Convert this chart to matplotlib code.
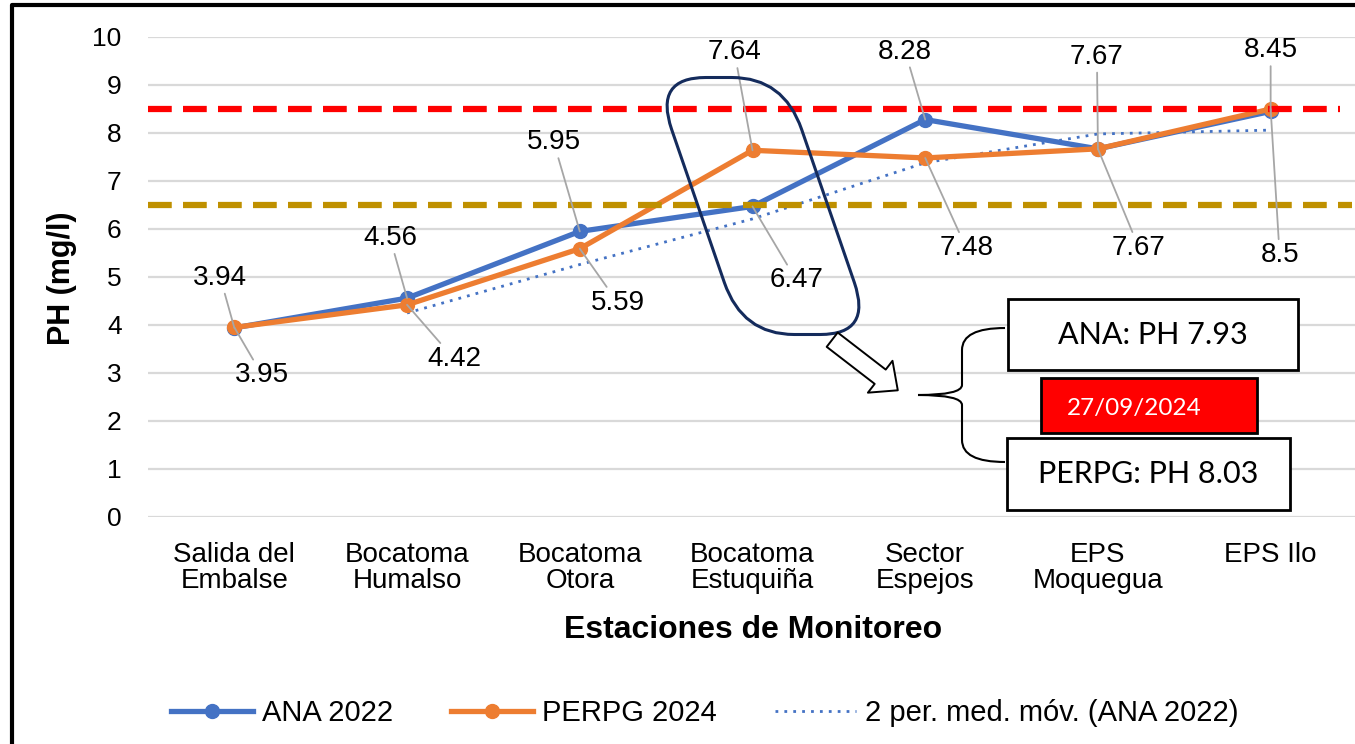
import matplotlib
matplotlib.use("Agg")
import matplotlib.pyplot as plt
from matplotlib.lines import Line2D
from matplotlib.patches import FancyBboxPatch, FancyArrowPatch, Rectangle, PathPatch
from matplotlib.path import Path
from matplotlib.transforms import Affine2D

plt.rcParams["font.family"] = ["Liberation Sans", "DejaVu Sans"]

# ── datos ────────────────────────────────────
estaciones = ["Salida del\nEmbalse", "Bocatoma\nHumalso", "Bocatoma\nOtora",
              "Bocatoma\nEstuquiña", "Sector\nEspejos", "EPS\nMoquegua", "EPS Ilo"]
ana_2022 = [3.94, 4.56, 5.95, 6.47, 8.28, 7.67, 8.45]
perpg_2024 = [3.95, 4.42, 5.59, 7.64, 7.48, 7.67, 8.50]
# media móvil de 2 periodos (ANA 2022), desde la 2da estación
media_movil = [4.25, 5.26, 6.21, 7.38, 7.98, 8.06]
limite_sup = 8.5
limite_inf = 6.5
recuadro_ana = "ANA: PH 7.93"
recuadro_perpg = "PERPG: PH 8.03"
fecha = "27/09/2024"

C_ANA = "#4472C4"
C_PERPG = "#ED7D31"
C_GRID = "#D9D9D9"
C_LEADER = "#A6A6A6"

# offsets de etiquetas (pixeles)
off_ana = [(-14, 50), (-17, 60), (-26, 89), (44, -74), (-20, 68), (-1, 92), (0, 61)]
off_perpg = [(28, -48), (47, -54), (38, -54), (-18, 98), (41, -90), (41, -99), (9, -146)]

W, H = 1355, 744
fig = plt.figure(figsize=(W / 100, H / 100), dpi=100)
fig.patch.set_facecolor("white")

ax = fig.add_axes([148 / W, (H - 517) / H, (1357 - 148) / W, (517 - 37) / H])
x = list(range(len(estaciones)))
ax.set_xlim(-0.5, 6.5)
ax.set_ylim(0, 10)
ax.set_yticks(range(0, 11))
ax.set_xticks(x)
ax.set_xticklabels(estaciones, fontsize=20, linespacing=1.0)
ax.tick_params(axis="both", length=0, colors="#000000")
ax.tick_params(axis="y", pad=19, labelsize=19)
ax.tick_params(axis="x", pad=18)
for s in ax.spines.values():
    s.set_visible(False)
ax.grid(axis="y", color=C_GRID, lw=1.6)
ax.set_axisbelow(True)

ax.plot(x[1:], media_movil, color=C_ANA, lw=2.0, ls=(0, (1, 2.2)), zorder=2)
ax.plot(x, ana_2022, color=C_ANA, lw=3.8, marker="o", ms=10, zorder=3)
ax.plot(x, perpg_2024, color=C_PERPG, lw=3.8, marker="o", ms=10, zorder=3)

ax.axhline(limite_sup, xmin=0, xmax=(1340 - 148) / (1357 - 148), color="#FF0000",
           lw=4.5, ls=(0, (3.8, 1.8)), zorder=4)
ax.axhline(limite_inf, xmin=0, xmax=(1352 - 148) / (1357 - 148), color="#BF9000",
           lw=4.5, ls=(0, (3.8, 1.8)), zorder=4)

for xi, v, (dx, dy) in zip(x, ana_2022, off_ana):
    ax.annotate(f"{v:g}", xy=(xi, v), xytext=(dx, dy), textcoords="offset pixels",
                ha="center", va="center", fontsize=20, color="#000000",
                arrowprops=dict(arrowstyle="-", color=C_LEADER, lw=1.3,
                                shrinkA=0, shrinkB=0), zorder=5)
for xi, v, (dx, dy) in zip(x, perpg_2024, off_perpg):
    ax.annotate(f"{v:g}", xy=(xi, v), xytext=(dx, dy), textcoords="offset pixels",
                ha="center", va="center", fontsize=20, color="#000000",
                arrowprops=dict(arrowstyle="-", color=C_LEADER, lw=1.3,
                                shrinkA=0, shrinkB=0), zorder=5)

fig.text(62 / W, 1 - 278 / H, "PH (mg/l)", rotation=90, ha="center", va="center",
         fontsize=22, fontweight="bold")
fig.text(753 / W, 1 - 630 / H, "Estaciones de Monitoreo", ha="center", va="center",
         fontsize=23, fontweight="bold")

handles = [
    Line2D([], [], color=C_ANA, lw=3.8, marker="o", ms=10),
    Line2D([], [], color=C_PERPG, lw=3.8, marker="o", ms=10),
    Line2D([], [], color=C_ANA, lw=2.0, ls=(0, (1, 2.2))),
]
fig.legend(handles, ["ANA 2022", "PERPG 2024", "2 per. med. móv. (ANA 2022)"],
           loc="center", bbox_to_anchor=(705 / W, 1 - 713 / H), ncol=3,
           frameon=False, fontsize=21, handlelength=2.8, handletextpad=0.3,
           columnspacing=2.0)

# ── capa de anotaciones en pixeles ────────────────────────────────────
ov = fig.add_axes([0, 0, 1, 1], zorder=10)
ov.set_xlim(0, W)
ov.set_ylim(H, 0)
ov.axis("off")
ov.patch.set_alpha(0)

# marco negro
ov.plot([12, 12, W], [H, 5, 5], color="black", lw=3, solid_capstyle="butt")

# óvalo inclinado (paralelogramo redondeado)
cx, cy, bw, bh = 763, 206, 130, 257
skew = Affine2D().translate(-cx, -cy).skew_deg(19, 0).translate(cx, cy)
rr = FancyBboxPatch((cx - bw / 2, cy - bh / 2), bw, bh,
                    boxstyle="round,pad=0,rounding_size=52",
                    fc="none", ec="#142B5C", lw=2.2,
                    transform=skew + ov.transData)
ov.add_patch(rr)

# flecha de bloque
ov.add_patch(FancyArrowPatch((830, 338), (900, 392),
                             arrowstyle="simple,head_width=29,head_length=16,tail_width=13",
                             fc="white", ec="black", lw=1.4, mutation_scale=1))

# llave
verts = [(1005, 328), (962, 328), (962, 350),
         (962, 385), (962, 395), (918, 395),
         (962, 395), (962, 405), (962, 440),
         (962, 462), (1005, 462)]
codes = [Path.MOVETO, Path.CURVE3, Path.CURVE3,
         Path.LINETO, Path.CURVE3, Path.CURVE3,
         Path.CURVE3, Path.CURVE3, Path.LINETO,
         Path.CURVE3, Path.CURVE3]
ov.add_patch(PathPatch(Path(verts, codes), fc="none", ec="black", lw=1.5))

# recuadros
ov.add_patch(Rectangle((1008, 299), 290, 71, fc="white", ec="black", lw=2))
ov.text(1153, 335, recuadro_ana, ha="center", va="center", fontsize=22,
        family=["Lato", "DejaVu Sans"])
ov.add_patch(Rectangle((1041, 378), 216, 55, fc="#FF0000", ec="black", lw=2))
ov.text(1067, 408, fecha, ha="left", va="center", fontsize=17.5, color="white",
        family=["Lato", "DejaVu Sans"])
ov.add_patch(Rectangle((1007, 438), 283, 72, fc="white", ec="black", lw=2))
ov.text(1148, 474, recuadro_perpg, ha="center", va="center", fontsize=22,
        family=["Lato", "DejaVu Sans"])

fig.savefig("out.png", dpi=100, facecolor=fig.get_facecolor())
